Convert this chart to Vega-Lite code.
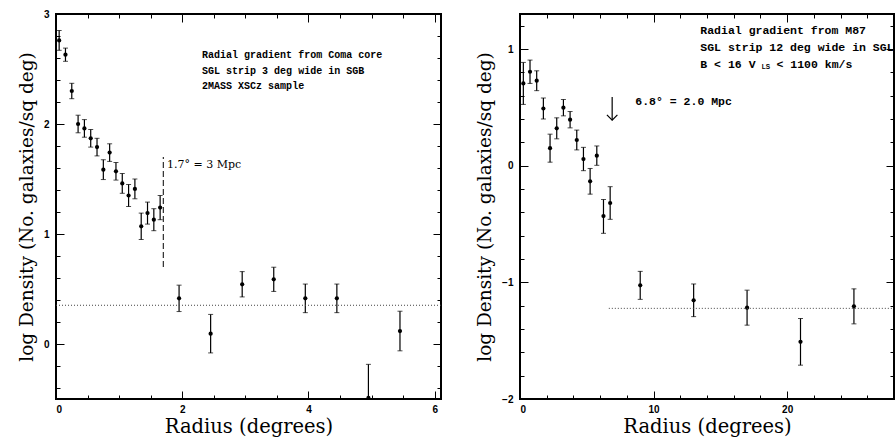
{
  "$schema": "https://vega.github.io/schema/vega-lite/v6.json",
  "background": "white",
  "padding": {"left": 16, "top": 8, "right": 0, "bottom": 0},
  "datasets": {
    "coma": [
      {"r": 0.05, "d": 2.76, "lo": 2.67, "hi": 2.85},
      {"r": 0.15, "d": 2.63, "lo": 2.57, "hi": 2.69},
      {"r": 0.25, "d": 2.30, "lo": 2.23, "hi": 2.37},
      {"r": 0.35, "d": 2.00, "lo": 1.92, "hi": 2.08},
      {"r": 0.45, "d": 1.96, "lo": 1.88, "hi": 2.04},
      {"r": 0.55, "d": 1.87, "lo": 1.79, "hi": 1.95},
      {"r": 0.65, "d": 1.79, "lo": 1.71, "hi": 1.87},
      {"r": 0.75, "d": 1.585, "lo": 1.495, "hi": 1.675},
      {"r": 0.85, "d": 1.74, "lo": 1.66, "hi": 1.82},
      {"r": 0.95, "d": 1.57, "lo": 1.49, "hi": 1.65},
      {"r": 1.05, "d": 1.46, "lo": 1.37, "hi": 1.55},
      {"r": 1.15, "d": 1.35, "lo": 1.25, "hi": 1.45},
      {"r": 1.25, "d": 1.41, "lo": 1.32, "hi": 1.50},
      {"r": 1.35, "d": 1.07, "lo": 0.95, "hi": 1.19},
      {"r": 1.45, "d": 1.19, "lo": 1.09, "hi": 1.29},
      {"r": 1.55, "d": 1.13, "lo": 1.03, "hi": 1.23},
      {"r": 1.65, "d": 1.24, "lo": 1.13, "hi": 1.35},
      {"r": 1.95, "d": 0.415, "lo": 0.295, "hi": 0.535},
      {"r": 2.45, "d": 0.094, "lo": -0.081, "hi": 0.269},
      {"r": 2.95, "d": 0.543, "lo": 0.428, "hi": 0.658},
      {"r": 3.45, "d": 0.588, "lo": 0.478, "hi": 0.698},
      {"r": 3.95, "d": 0.415, "lo": 0.285, "hi": 0.545},
      {"r": 4.45, "d": 0.415, "lo": 0.285, "hi": 0.545},
      {"r": 4.95, "d": -0.49, "lo": -0.5, "hi": -0.185},
      {"r": 5.45, "d": 0.118, "lo": -0.062, "hi": 0.298}
    ],
    "m87": [
      {"r": 0.25, "d": 0.705, "lo": 0.525, "hi": 0.885},
      {"r": 0.75, "d": 0.805, "lo": 0.705, "hi": 0.905},
      {"r": 1.25, "d": 0.728, "lo": 0.643, "hi": 0.813},
      {"r": 1.75, "d": 0.49, "lo": 0.40, "hi": 0.58},
      {"r": 2.25, "d": 0.15, "lo": 0.03, "hi": 0.27},
      {"r": 2.75, "d": 0.32, "lo": 0.23, "hi": 0.41},
      {"r": 3.25, "d": 0.497, "lo": 0.427, "hi": 0.567},
      {"r": 3.75, "d": 0.394, "lo": 0.324, "hi": 0.464},
      {"r": 4.25, "d": 0.22, "lo": 0.135, "hi": 0.305},
      {"r": 4.75, "d": 0.057, "lo": -0.043, "hi": 0.157},
      {"r": 5.25, "d": -0.134, "lo": -0.244, "hi": -0.024},
      {"r": 5.75, "d": 0.086, "lo": 0.003, "hi": 0.169},
      {"r": 6.25, "d": -0.432, "lo": -0.58, "hi": -0.29},
      {"r": 6.75, "d": -0.32, "lo": -0.46, "hi": -0.18},
      {"r": 9, "d": -1.026, "lo": -1.146, "hi": -0.906},
      {"r": 13, "d": -1.154, "lo": -1.294, "hi": -1.014},
      {"r": 17, "d": -1.217, "lo": -1.367, "hi": -1.067},
      {"r": 21, "d": -1.51, "lo": -1.71, "hi": -1.31},
      {"r": 25, "d": -1.206, "lo": -1.356, "hi": -1.056}
    ],
    "comaText": [
      {"x": 2.315, "y": 2.63, "t": "Radial gradient from Coma core"},
      {"x": 2.315, "y": 2.485, "t": "SGL strip 3 deg wide in SGB"},
      {"x": 2.315, "y": 2.345, "t": "2MASS XSCz sample"}
    ],
    "m87Text": [
      {"x": 13.5, "y": 1.155, "t": "Radial gradient from M87"},
      {"x": 13.5, "y": 1.009, "t": "SGL strip 12 deg wide in SGL"},
      {"x": 13.5, "y": 0.863, "t": "B < 16  V"},
      {"x": 19.2, "y": 0.863, "t": "< 1100 km/s"},
      {"x": 8.63, "y": 0.546, "t": "6.8° = 2.0 Mpc"}
    ],
    "m87Sub": [
      {"x": 18.1, "y": 0.845, "t": "LS"}
    ]
  },
  "hconcat": [
    {
      "width": 385,
      "height": 385,
      "resolve": {"axis": {"x": "independent", "y": "independent"}},
      "layer": [
        {
          "data": {"name": "coma"},
          "mark": {"type": "rule", "color": "black", "strokeWidth": 1.2, "clip": true},
          "encoding": {
            "x": {"field": "r", "type": "quantitative", "scale": {"domain": [0, 6.1], "nice": false, "zero": false},
                  "axis": {"orient": "top", "values": [0, 2, 4, 6], "labels": false, "title": null, "tickSize": -8}},
            "y": {"field": "lo", "type": "quantitative", "scale": {"domain": [-0.5, 3], "nice": false, "zero": false},
                  "axis": {"orient": "right", "values": [0, 1, 2, 3], "labels": false, "title": null, "tickSize": -8}},
            "y2": {"field": "hi"}
          }
        },
        {
          "data": {"name": "coma"},
          "mark": {"type": "tick", "orient": "horizontal", "color": "black", "size": 5, "thickness": 1, "clip": true},
          "encoding": {
            "x": {"field": "r", "type": "quantitative", "scale": {"domain": [0, 6.1], "nice": false, "zero": false},
                  "axis": {"orient": "bottom", "values": [0.5, 1, 1.5, 2.5, 3, 3.5, 4.5, 5, 5.5], "labels": false, "title": null, "tickSize": -4}},
            "y": {"field": "lo", "type": "quantitative", "scale": {"domain": [-0.5, 3], "nice": false, "zero": false},
                  "axis": {"orient": "left", "values": [-0.4, -0.2, 0.2, 0.4, 0.6, 0.8, 1.2, 1.4, 1.6, 1.8, 2.2, 2.4, 2.6, 2.8], "labels": false, "title": null, "tickSize": -4}}
          }
        },
        {
          "data": {"name": "coma"},
          "mark": {"type": "tick", "orient": "horizontal", "color": "black", "size": 5, "thickness": 1, "clip": true},
          "encoding": {
            "x": {"field": "r", "type": "quantitative", "scale": {"domain": [0, 6.1], "nice": false, "zero": false},
                  "axis": {"orient": "top", "values": [0.5, 1, 1.5, 2.5, 3, 3.5, 4.5, 5, 5.5], "labels": false, "title": null, "tickSize": -4}},
            "y": {"field": "hi", "type": "quantitative", "scale": {"domain": [-0.5, 3], "nice": false, "zero": false},
                  "axis": {"orient": "right", "values": [-0.4, -0.2, 0.2, 0.4, 0.6, 0.8, 1.2, 1.4, 1.6, 1.8, 2.2, 2.4, 2.6, 2.8], "labels": false, "title": null, "tickSize": -4}}
          }
        },
        {
          "data": {"name": "coma"},
          "mark": {"type": "circle", "color": "black", "size": 18, "opacity": 1, "clip": true},
          "encoding": {
            "x": {"field": "r", "type": "quantitative", "scale": {"domain": [0, 6.1], "nice": false, "zero": false},
                  "axis": {"orient": "bottom", "values": [0, 2, 4, 6], "title": "Radius (degrees)", "tickSize": -8, "labelPadding": 13, "titlePadding": 3, "titleFontSize": 19.5}},
            "y": {"field": "d", "type": "quantitative", "scale": {"domain": [-0.5, 3], "nice": false, "zero": false},
                  "axis": {"orient": "left", "values": [0, 1, 2, 3], "title": "log Density (No. galaxies/sq deg)", "tickSize": -8, "labelPadding": 15, "titlePadding": 7, "titleFontSize": 18.5}}
          }
        },
        {
          "data": {"values": [{"y": 0.352}]},
          "mark": {"type": "rule", "color": "#444", "strokeWidth": 1, "strokeDash": [1, 2]},
          "encoding": {
            "y": {"field": "y", "type": "quantitative", "scale": {"domain": [-0.5, 3], "nice": false, "zero": false}, "axis": null}
          }
        },
        {
          "data": {"values": [{"x": 1.7, "y": 0.7, "y2": 1.7}]},
          "mark": {"type": "rule", "color": "black", "strokeWidth": 1, "strokeDash": [6, 3]},
          "encoding": {
            "x": {"field": "x", "type": "quantitative", "scale": {"domain": [0, 6.1], "nice": false, "zero": false}, "axis": null},
            "y": {"field": "y", "type": "quantitative", "scale": {"domain": [-0.5, 3], "nice": false, "zero": false}, "axis": null},
            "y2": {"field": "y2"}
          }
        },
        {
          "data": {"name": "comaText"},
          "mark": {"type": "text", "align": "left", "baseline": "middle", "font": "Liberation Mono", "fontWeight": "bold", "fontSize": 10, "color": "black"},
          "encoding": {
            "x": {"field": "x", "type": "quantitative", "scale": {"domain": [0, 6.1], "nice": false, "zero": false}, "axis": null},
            "y": {"field": "y", "type": "quantitative", "scale": {"domain": [-0.5, 3], "nice": false, "zero": false}, "axis": null},
            "text": {"field": "t"}
          }
        },
        {
          "data": {"values": [{"x": 1.76, "y": 1.63, "t": "1.7° = 3 Mpc"}]},
          "mark": {"type": "text", "align": "left", "baseline": "middle", "font": "DejaVu Serif", "fontSize": 11, "color": "black"},
          "encoding": {
            "x": {"field": "x", "type": "quantitative", "scale": {"domain": [0, 6.1], "nice": false, "zero": false}, "axis": null},
            "y": {"field": "y", "type": "quantitative", "scale": {"domain": [-0.5, 3], "nice": false, "zero": false}, "axis": null},
            "text": {"field": "t"}
          }
        }
      ]
    },
    {
      "width": 374,
      "height": 385,
      "resolve": {"axis": {"x": "independent", "y": "independent"}},
      "layer": [
        {
          "data": {"name": "m87"},
          "mark": {"type": "rule", "color": "black", "strokeWidth": 1.2, "clip": true},
          "encoding": {
            "x": {"field": "r", "type": "quantitative", "scale": {"domain": [0, 28], "nice": false, "zero": false},
                  "axis": {"orient": "top", "values": [0, 10, 20], "labels": false, "title": null, "tickSize": -8}},
            "y": {"field": "lo", "type": "quantitative", "scale": {"domain": [-2, 1.3], "nice": false, "zero": false},
                  "axis": {"orient": "right", "values": [-2, -1, 0, 1], "labels": false, "title": null, "tickSize": -8}},
            "y2": {"field": "hi"}
          }
        },
        {
          "data": {"name": "m87"},
          "mark": {"type": "tick", "orient": "horizontal", "color": "black", "size": 5, "thickness": 1, "clip": true},
          "encoding": {
            "x": {"field": "r", "type": "quantitative", "scale": {"domain": [0, 28], "nice": false, "zero": false},
                  "axis": {"orient": "bottom", "values": [2, 4, 6, 8, 12, 14, 16, 18, 22, 24, 26], "labels": false, "title": null, "tickSize": -4}},
            "y": {"field": "lo", "type": "quantitative", "scale": {"domain": [-2, 1.3], "nice": false, "zero": false},
                  "axis": {"orient": "left", "values": [-1.8, -1.6, -1.4, -1.2, -0.8, -0.6, -0.4, -0.2, 0.2, 0.4, 0.6, 0.8, 1.2], "labels": false, "title": null, "tickSize": -4}}
          }
        },
        {
          "data": {"name": "m87"},
          "mark": {"type": "tick", "orient": "horizontal", "color": "black", "size": 5, "thickness": 1, "clip": true},
          "encoding": {
            "x": {"field": "r", "type": "quantitative", "scale": {"domain": [0, 28], "nice": false, "zero": false},
                  "axis": {"orient": "top", "values": [2, 4, 6, 8, 12, 14, 16, 18, 22, 24, 26], "labels": false, "title": null, "tickSize": -4}},
            "y": {"field": "hi", "type": "quantitative", "scale": {"domain": [-2, 1.3], "nice": false, "zero": false},
                  "axis": {"orient": "right", "values": [-1.8, -1.6, -1.4, -1.2, -0.8, -0.6, -0.4, -0.2, 0.2, 0.4, 0.6, 0.8, 1.2], "labels": false, "title": null, "tickSize": -4}}
          }
        },
        {
          "data": {"name": "m87"},
          "mark": {"type": "circle", "color": "black", "size": 18, "opacity": 1, "clip": true},
          "encoding": {
            "x": {"field": "r", "type": "quantitative", "scale": {"domain": [0, 28], "nice": false, "zero": false},
                  "axis": {"orient": "bottom", "values": [0, 10, 20], "title": "Radius (degrees)", "tickSize": -8, "labelPadding": 13, "titlePadding": 3, "titleFontSize": 19.5}},
            "y": {"field": "d", "type": "quantitative", "scale": {"domain": [-2, 1.3], "nice": false, "zero": false},
                  "axis": {"orient": "left", "values": [-2, -1, 0, 1], "title": "log Density (No. galaxies/sq deg)", "tickSize": -8, "labelPadding": 15, "titlePadding": 7, "titleFontSize": 18.5}}
          }
        },
        {
          "data": {"values": [{"x": 6.65, "x2": 28, "y": -1.223}]},
          "mark": {"type": "rule", "color": "#444", "strokeWidth": 1, "strokeDash": [1, 2]},
          "encoding": {
            "x": {"field": "x", "type": "quantitative", "scale": {"domain": [0, 28], "nice": false, "zero": false}, "axis": null},
            "x2": {"field": "x2"},
            "y": {"field": "y", "type": "quantitative", "scale": {"domain": [-2, 1.3], "nice": false, "zero": false}, "axis": null}
          }
        },
        {
          "data": {"values": [{"x": 6.9, "y": 0.589, "y2": 0.39}]},
          "mark": {"type": "rule", "color": "black", "strokeWidth": 1.2},
          "encoding": {
            "x": {"field": "x", "type": "quantitative", "scale": {"domain": [0, 28], "nice": false, "zero": false}, "axis": null},
            "y": {"field": "y", "type": "quantitative", "scale": {"domain": [-2, 1.3], "nice": false, "zero": false}, "axis": null},
            "y2": {"field": "y2"}
          }
        },
        {
          "data": {"values": [{"x": 6.9, "y": 0.39}]},
          "mark": {"type": "point", "shape": "M -1 -1 L 0 0 L 1 -1", "filled": false, "color": "black", "size": 110, "strokeWidth": 1.2, "opacity": 1},
          "encoding": {
            "x": {"field": "x", "type": "quantitative", "scale": {"domain": [0, 28], "nice": false, "zero": false}, "axis": null},
            "y": {"field": "y", "type": "quantitative", "scale": {"domain": [-2, 1.3], "nice": false, "zero": false}, "axis": null}
          }
        },
        {
          "data": {"name": "m87Text"},
          "mark": {"type": "text", "align": "left", "baseline": "middle", "font": "Liberation Mono", "fontWeight": "bold", "fontSize": 11.5, "color": "black"},
          "encoding": {
            "x": {"field": "x", "type": "quantitative", "scale": {"domain": [0, 28], "nice": false, "zero": false}, "axis": null},
            "y": {"field": "y", "type": "quantitative", "scale": {"domain": [-2, 1.3], "nice": false, "zero": false}, "axis": null},
            "text": {"field": "t"}
          }
        },
        {
          "data": {"name": "m87Sub"},
          "mark": {"type": "text", "align": "left", "baseline": "middle", "font": "Liberation Sans", "fontWeight": "bold", "fontSize": 6.5, "color": "black"},
          "encoding": {
            "x": {"field": "x", "type": "quantitative", "scale": {"domain": [0, 28], "nice": false, "zero": false}, "axis": null},
            "y": {"field": "y", "type": "quantitative", "scale": {"domain": [-2, 1.3], "nice": false, "zero": false}, "axis": null},
            "text": {"field": "t"}
          }
        }
      ]
    }
  ],
  "spacing": 79,
  "bounds": "flush",
  "config": {
    "view": {"stroke": "black", "strokeWidth": 2},
    "axis": {
      "domain": false,
      "grid": false,
      "tickColor": "black",
      "tickWidth": 1,
      "labelFont": "Liberation Sans",
      "labelFontWeight": "bold",
      "labelFontSize": 10,
      "labelColor": "black",
      "titleFont": "DejaVu Serif",
      "titleFontWeight": "normal",
      "titleFontSize": 18,
      "titleColor": "black"
    }
  }
}
